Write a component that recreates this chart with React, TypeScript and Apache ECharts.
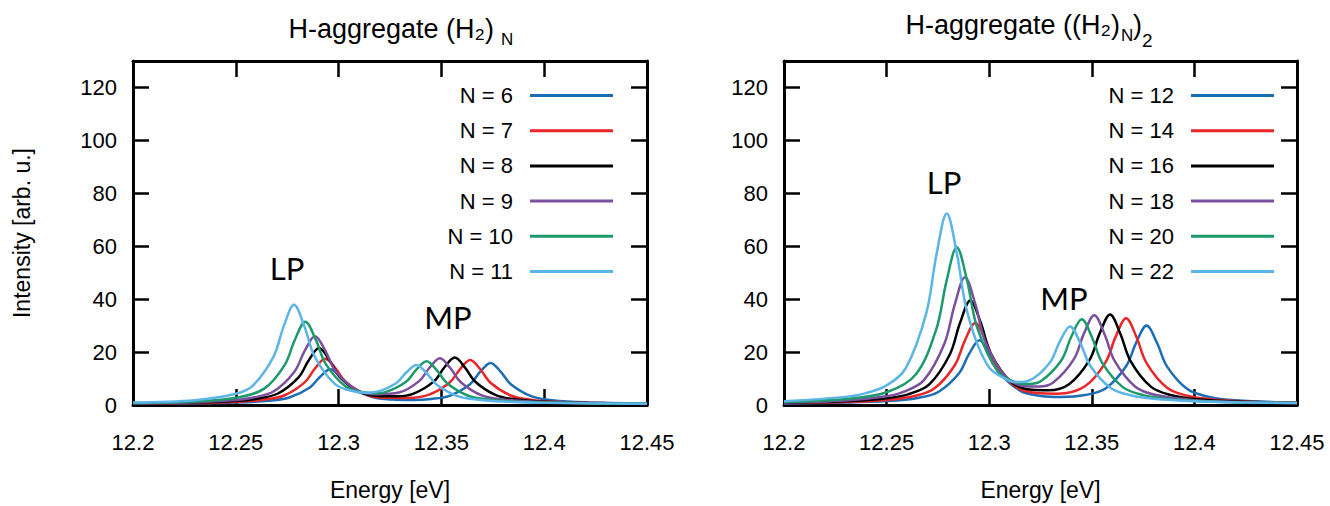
import React, { useEffect, useRef } from 'react';
import * as echarts from 'echarts';

// ---------- data ----------
const leftNames = ['N = 6', 'N = 7', 'N = 8', 'N = 9', 'N = 10', 'N = 11'];
const rightNames = ['N = 12', 'N = 14', 'N = 16', 'N = 18', 'N = 20', 'N = 22'];
const colors = ['#1b6db5', '#ea2629', '#000000', '#7b4f9e', '#1d9a6c', '#5bb5e8'];

const xMin = 12.2;
const xMax = 12.45;
const xStep = 0.05;
const yMin = 0;
const yMax = 130;
const yStep = 20;

const leftTitle = 'H-aggregate (H₂)';
const rightTitle = 'H-aggregate ((H₂)';

// Left panel: (H2)_N spectra [energy eV, intensity]
const L6 = [[12.20,0.48],[12.23,0.63],[12.25,0.92],[12.266,1.6],[12.276,2.83],[12.286,6.64],[12.291,10.68],[12.296,13.53],[12.301,10.74],[12.306,6.76],[12.316,3.09],[12.326,2.06],[12.336,1.9],[12.345,2.27],[12.3539,3.47],[12.3639,7.85],[12.3689,12.58],[12.3739,15.89],[12.3789,12.53],[12.3839,7.75],[12.3939,3.25],[12.4039,1.8],[12.42,1.01],[12.45,0.59]];
const L7 = [[12.20,0.52],[12.23,0.75],[12.25,1.18],[12.2635,2.0],[12.2735,3.59],[12.2835,8.53],[12.2885,13.79],[12.2935,17.49],[12.2985,13.87],[12.3035,8.7],[12.3135,3.97],[12.3235,2.7],[12.3335,2.65],[12.344,3.9],[12.354,8.48],[12.359,13.49],[12.364,17.0],[12.369,13.4],[12.374,8.3],[12.384,3.5],[12.394,1.94],[12.41,1.08],[12.43,0.71],[12.45,0.56]];
const L8 = [[12.20,0.59],[12.23,0.9],[12.25,1.53],[12.26,2.33],[12.2705,4.35],[12.2805,10.44],[12.2855,16.93],[12.2905,21.5],[12.2955,17.04],[12.3005,10.66],[12.3105,4.84],[12.3205,3.32],[12.3285,3.31],[12.3365,4.31],[12.3465,9.03],[12.3515,14.26],[12.3565,17.92],[12.3615,14.14],[12.3665,8.77],[12.3765,3.71],[12.3865,2.07],[12.40,1.24],[12.42,0.79],[12.45,0.55]];
const L9 = [[12.20,0.66],[12.23,1.06],[12.25,1.9],[12.2585,2.8],[12.2685,5.19],[12.2785,12.59],[12.2835,20.45],[12.2885,26.0],[12.2935,20.58],[12.2985,12.86],[12.3085,5.83],[12.3185,4.06],[12.3293,4.69],[12.3393,9.12],[12.3443,14.16],[12.3493,17.7],[12.3543,13.97],[12.3593,8.71],[12.3693,3.73],[12.3793,2.1],[12.40,1.05],[12.42,0.73],[12.45,0.54]];
const L10 = [[12.20,0.76],[12.23,1.34],[12.25,2.71],[12.2638,6.19],[12.2738,15.19],[12.2788,24.75],[12.2838,31.49],[12.2888,24.88],[12.2938,15.46],[12.3038,6.84],[12.3138,4.61],[12.318,4.48],[12.3228,4.87],[12.3328,8.76],[12.3378,13.35],[12.3428,16.58],[12.3478,13.11],[12.3528,8.22],[12.3628,3.59],[12.3728,2.05],[12.39,1.14],[12.42,0.68],[12.45,0.52]];
const L11 = [[12.20,0.91],[12.23,1.79],[12.25,4.23],[12.2583,7.34],[12.2683,18.18],[12.2733,29.72],[12.2783,37.85],[12.2833,29.84],[12.2883,18.42],[12.2983,7.9],[12.3083,4.99],[12.3131,4.66],[12.3179,4.88],[12.3279,8.21],[12.3329,12.27],[12.3379,15.12],[12.3429,11.97],[12.3479,7.57],[12.3579,3.38],[12.3679,1.98],[12.38,1.29],[12.40,0.85],[12.42,0.65],[12.45,0.51]];

// Right panel: ((H2)_N)_2 spectra
const R12 = [[12.20,0.61],[12.23,0.92],[12.25,1.47],[12.2652,2.68],[12.2752,4.93],[12.2852,11.89],[12.2902,19.29],[12.2952,24.49],[12.3002,19.39],[12.3052,12.09],[12.3152,5.37],[12.3252,3.44],[12.3352,3.03],[12.3467,3.76],[12.3567,6.26],[12.3667,14.65],[12.3717,23.68],[12.3767,30.02],[12.3817,23.6],[12.3867,14.49],[12.3967,5.91],[12.4067,3.15],[12.42,1.79],[12.45,0.88]];
const R14 = [[12.20,0.71],[12.23,1.12],[12.25,1.9],[12.2632,3.3],[12.2732,6.19],[12.2832,15.02],[12.2882,24.41],[12.2932,31.02],[12.2982,24.55],[12.3032,15.31],[12.3132,6.84],[12.3232,4.51],[12.3332,4.29],[12.3467,7.11],[12.3567,16.13],[12.3617,25.93],[12.3667,32.8],[12.3717,25.8],[12.3767,15.86],[12.3867,6.5],[12.3967,3.47],[12.41,1.97],[12.43,1.15],[12.45,0.82]];
const R16 = [[12.20,0.84],[12.23,1.4],[12.25,2.54],[12.2608,4.12],[12.2708,7.78],[12.2808,19.08],[12.2858,31.07],[12.2908,39.53],[12.2958,31.26],[12.3008,19.47],[12.3108,8.65],[12.3208,5.76],[12.3289,5.58],[12.3389,7.86],[12.3489,17.05],[12.3539,27.16],[12.3589,34.24],[12.3639,26.94],[12.3689,16.6],[12.3789,6.85],[12.3889,3.68],[12.40,2.27],[12.42,1.29],[12.45,0.8]];
const R18 = [[12.20,0.97],[12.23,1.73],[12.25,3.33],[12.2582,4.96],[12.2682,9.42],[12.2782,23.26],[12.2832,37.96],[12.2882,48.32],[12.2932,38.19],[12.2982,23.73],[12.3082,10.52],[12.3182,7.1],[12.3245,6.99],[12.3312,8.5],[12.3412,17.22],[12.3462,27.06],[12.3512,33.95],[12.3562,26.74],[12.3612,16.54],[12.3712,6.91],[12.3812,3.76],[12.40,1.83],[12.42,1.15],[12.45,0.76]];
const R20 = [[12.20,1.17],[12.23,2.26],[12.25,4.8],[12.2642,11.5],[12.2742,28.62],[12.2792,46.8],[12.2842,59.63],[12.2892,47.04],[12.2942,29.11],[12.3042,12.65],[12.3142,8.29],[12.319,7.96],[12.3251,8.95],[12.3351,16.82],[12.3401,25.99],[12.3451,32.39],[12.3501,25.53],[12.3551,15.89],[12.3651,6.75],[12.3751,3.74],[12.39,2.09],[12.41,1.27],[12.43,0.92],[12.45,0.74]];
const R22 = [[12.20,1.44],[12.23,3.07],[12.24,4.5],[12.25,7.4],[12.2593,13.82],[12.2693,34.64],[12.2743,56.79],[12.2793,72.37],[12.2843,57.01],[12.2893,35.1],[12.2993,14.91],[12.3093,9.3],[12.3143,8.66],[12.3194,9.18],[12.3294,15.86],[12.3344,23.97],[12.3394,29.64],[12.3444,23.4],[12.3494,14.67],[12.3594,6.37],[12.3694,3.6],[12.38,2.36],[12.40,1.4],[12.42,1.0],[12.45,0.72]];

const leftData = [L6, L7, L8, L9, L10, L11];
const rightData = [R12, R14, R16, R18, R20, R22];

// ---------- styling ----------
const FONT = "'Liberation Sans', Arial, Helvetica, sans-serif";
const LABEL_FONT = "Lato, 'Open Sans', sans-serif";

const grids = [
  { left: 133, top: 61, width: 514, height: 344 },
  { left: 784, top: 61, width: 513, height: 344 },
];

function makeXAxes(gridIndex: number) {
  const common = {
    type: 'value',
    gridIndex,
    min: xMin,
    max: xMax,
    interval: xStep,
    splitLine: { show: false },
    axisLine: { show: true, onZero: false, lineStyle: { color: '#000', width: 3 } },
    axisTick: { show: true, inside: true, length: 16, lineStyle: { color: '#000', width: 2.5 } },
  };
  return [
    {
      ...common,
      position: 'bottom',
      axisLabel: {
        show: true,
        margin: 26,
        fontSize: 22,
        color: '#000',
        fontFamily: FONT,
        formatter: (v: number) => String(Math.round(v * 100) / 100),
      },
      name: 'Energy [eV]',
      nameLocation: 'middle',
      nameGap: 73,
      nameTextStyle: { fontSize: 23, color: '#000', fontFamily: FONT },
    },
    { ...common, position: 'top', axisLabel: { show: false } },
  ];
}

function makeYAxes(gridIndex: number, withName: boolean) {
  const common = {
    type: 'value',
    gridIndex,
    min: yMin,
    max: yMax,
    interval: yStep,
    splitLine: { show: false },
    axisLine: { show: true, onZero: false, lineStyle: { color: '#000', width: 3 } },
    axisTick: { show: true, inside: true, length: 16, lineStyle: { color: '#000', width: 2.5 } },
  };
  const left: any = {
    ...common,
    position: 'left',
    axisLabel: {
      show: true,
      margin: 16,
      fontSize: 22,
      color: '#000',
      fontFamily: FONT,
      formatter: (v: number) => (v > 125 ? '' : String(v)),
    },
  };
  if (withName) {
    left.name = 'Intensity [arb. u.]';
    left.nameLocation = 'middle';
    left.nameGap = 100;
    left.nameTextStyle = { fontSize: 23, color: '#000', fontFamily: FONT };
  }
  return [left, { ...common, position: 'right', axisLabel: { show: false } }];
}

function txt(text: string, x: number, y: number, size: number, align: string, family = FONT) {
  return {
    type: 'text',
    x,
    y,
    z: 100,
    style: {
      text,
      fill: '#000',
      fontSize: size,
      fontFamily: family,
      align,
      textAlign: align,
      verticalAlign: 'middle',
      textVerticalAlign: 'middle',
    },
  };
}

function legendElements(names: string[], textRight: number, x1: number, x2: number) {
  const out: any[] = [];
  names.forEach((name, i) => {
    const y = 95.5 + i * 35.2;
    out.push(txt(name, textRight, y, 22, 'right'));
    out.push({
      type: 'line',
      z: 100,
      shape: { x1, y1: y, x2, y2: y },
      style: { stroke: colors[i], lineWidth: 3 },
    });
  });
  return out;
}

export default function App() {
  const ref = useRef<HTMLDivElement>(null);

  useEffect(() => {
    if (!ref.current) return;
    const chart = echarts.init(ref.current, undefined, { renderer: 'svg' });

    const series: any[] = [];
    const addSeries = (d: number[][], name: string, color: string, xi: number, z: number) => {
      series.push({
        type: 'line',
        name,
        xAxisIndex: xi,
        yAxisIndex: xi,
        data: d,
        showSymbol: false,
        smooth: 0.35,
        lineStyle: { color, width: 2.5 },
        itemStyle: { color },
        z,
      });
    };
    leftData.forEach((d, i) => addSeries(d, leftNames[i], colors[i], 0, 2 + i));
    rightData.forEach((d, i) => addSeries(d, rightNames[i], colors[i], 2, 2 + i));

    const graphic: any[] = [
      // titles
      txt(leftTitle, 494, 29, 27, 'right'),
      txt('N', 501, 39, 17, 'left'),
      txt(rightTitle, 1120, 25, 27, 'right'),
      txt('N', 1121, 35, 17, 'left'),
      txt(')', 1133, 25, 27, 'left'),
      txt('2', 1142, 40, 19, 'left'),
      // peak labels
      txt('LP', 287, 268, 31, 'center', LABEL_FONT),
      txt('MP', 448, 317, 31, 'center', LABEL_FONT),
      txt('LP', 944, 182, 31, 'center', LABEL_FONT),
      txt('MP', 1064, 298, 31, 'center', LABEL_FONT),
      ...legendElements(leftNames, 513, 530, 613),
      ...legendElements(rightNames, 1174, 1191, 1274),
    ];

    chart.setOption({
      animation: false,
      backgroundColor: '#ffffff',
      grid: grids.map((g) => ({ ...g, containLabel: false, outerBoundsMode: 'none' })),
      xAxis: [...makeXAxes(0), ...makeXAxes(1)],
      yAxis: [...makeYAxes(0, true), ...makeYAxes(1, false)],
      series,
      graphic,
    });

    return () => chart.dispose();
  }, []);

  return (
    <div
      ref={ref}
      style={{ position: 'absolute', left: 0, top: 0, width: '1330px', height: '506px', background: '#fff' }}
    />
  );
}
